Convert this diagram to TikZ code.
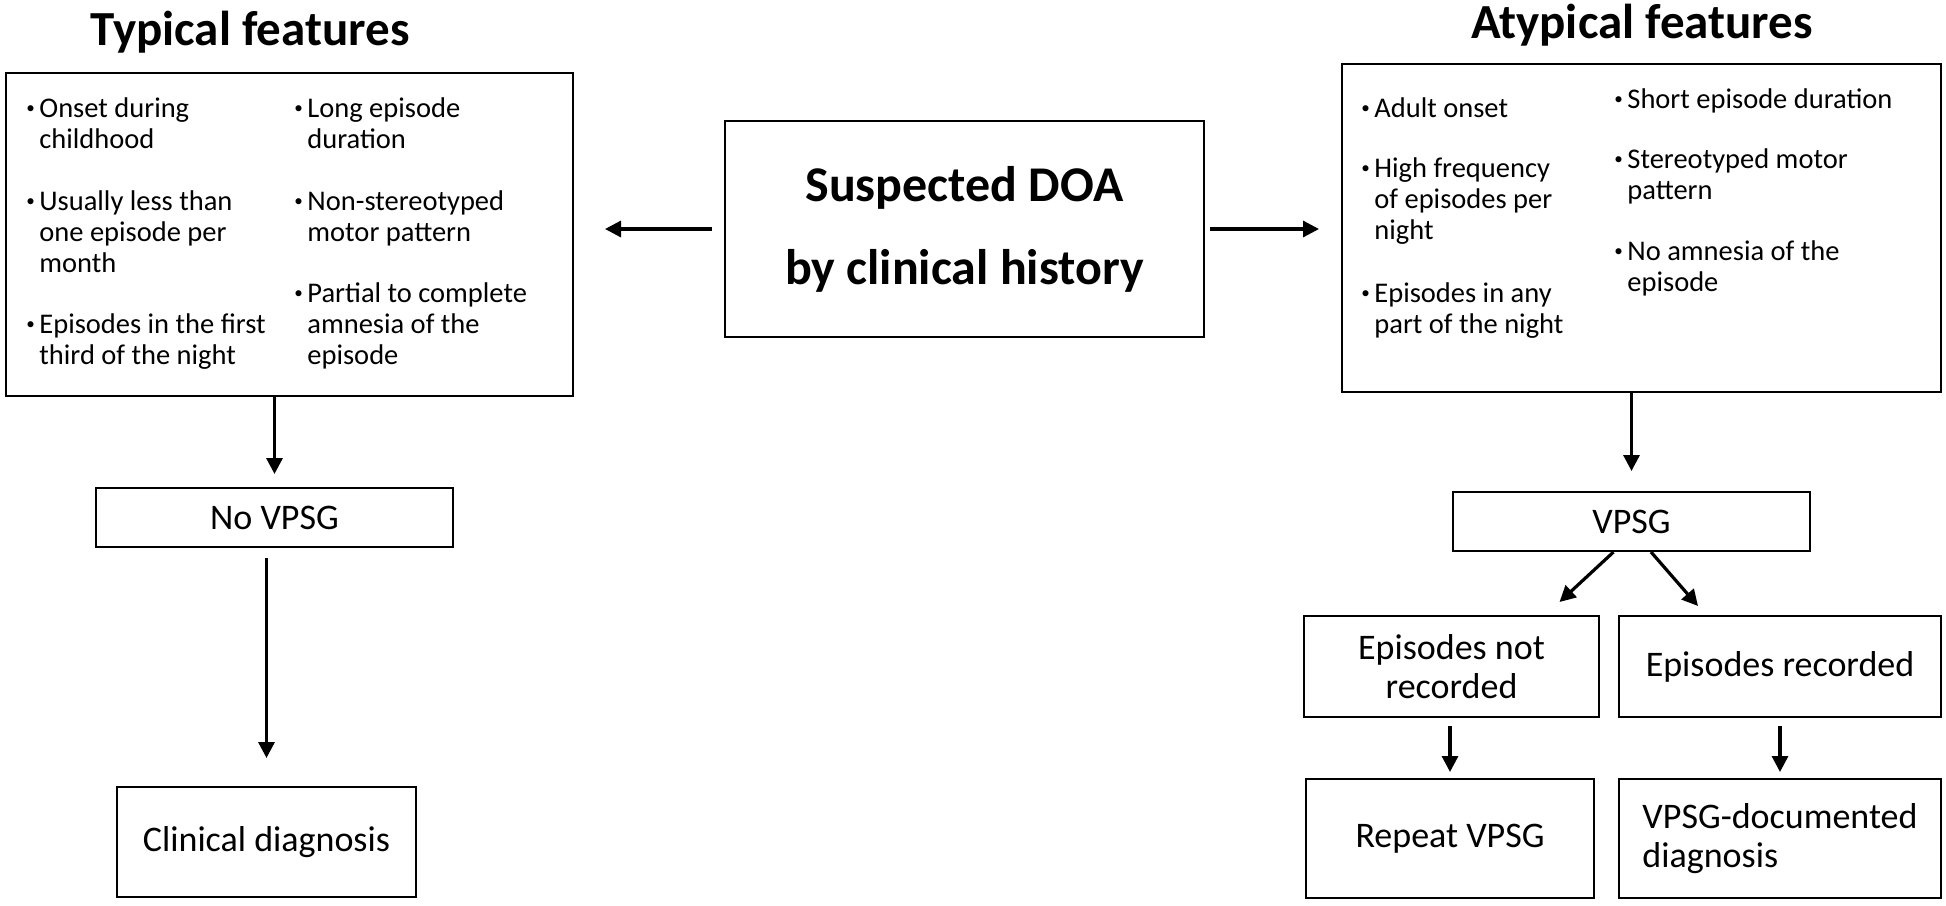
\documentclass[tikz,border=0pt]{standalone}
\usepackage{fontspec}
\usepackage{graphicx}
\setmainfont{Carlito}
\usetikzlibrary{arrows.meta}

\newcommand{\feat}[1]{\makebox[7pt][l]{\hspace{0.5pt}\raisebox{0.12em}{\scalebox{0.6}{\textbullet}}}\begin{tabular}[t]{@{}l@{}}#1\end{tabular}}

\begin{document}
\begin{tikzpicture}[x=0.5pt,y=-0.5pt]
\tikzstyle{box}=[draw,line width=1pt,inner sep=0pt]
\tikzstyle{flow}=[box,font=\fontsize{18}{19.5}\selectfont,align=center]
\tikzstyle{item}=[anchor=base west,inner sep=0pt,font=\fontsize{14.25}{15.5}\selectfont]
\tikzstyle{heading}=[anchor=base,inner sep=0pt,font=\fontsize{24.5}{29}\selectfont\bfseries]
\tikzstyle{arr}=[-{Triangle[length=8pt,width=8pt]},line width=1.6pt]

\useasboundingbox (0,0) rectangle (1946,905);

  \node[heading] (typt) at (250,45) {Typical features};
  \node[heading] (atypt) at (1642,38) {Atypical features};

  \node[box,minimum width=283.5pt,minimum height=161.5pt] (typ) at (289.5,234.5) {};
  \node[box,minimum width=239.5pt,minimum height=108pt,align=center,
        font=\fontsize{25}{41.5}\selectfont\bfseries] (doa) at (964.5,229)
        {Suspected DOA\\by clinical history};
  \node[box,minimum width=299.5pt,minimum height=164pt] (atyp) at (1641.5,228) {};

  % typical features
  \node[item] (t1) at (25,117) {\feat{Onset during\\childhood}};
  \node[item] (t2) at (25,210) {\feat{Usually less than\\one episode per\\month}};
  \node[item] (t3) at (25,333) {\feat{Episodes in the first\\third of the night}};
  \node[item] (t4) at (293,117) {\feat{Long episode\\duration}};
  \node[item] (t5) at (293,210) {\feat{Non-stereotyped\\motor pattern}};
  \node[item] (t6) at (293,302) {\feat{Partial to complete\\amnesia of the\\episode}};

  % atypical features
  \node[item] (a1) at (1360,117) {\feat{Adult onset}};
  \node[item] (a2) at (1360,177) {\feat{High frequency\\of episodes per\\night}};
  \node[item] (a3) at (1360,302) {\feat{Episodes in any\\part of the night}};
  \node[item] (a4) at (1613,108) {\feat{Short episode duration}};
  \node[item] (a5) at (1613,168) {\feat{Stereotyped motor\\pattern}};
  \node[item] (a6) at (1613,260) {\feat{No amnesia of the\\episode}};

  \node[flow,minimum width=178.5pt,minimum height=29.5pt] (novpsg) at (274.5,517.5) {No VPSG};
  \node[flow,minimum width=149.5pt,minimum height=55pt] (clin) at (266.5,842) {Clinical diagnosis};
  \node[flow,minimum width=178.5pt,minimum height=29.5pt] (vpsg) at (1631.5,521.5) {VPSG};
  \node[flow,minimum width=147.5pt,minimum height=50.5pt] (notrec) at (1451.5,666.5) {Episodes not\\recorded};
  \node[flow,minimum width=161pt,minimum height=50.5pt] (rec) at (1780,666.5) {Episodes recorded};
  \node[flow,minimum width=144pt,minimum height=59.5pt] (rep) at (1450,838.5) {Repeat VPSG};
  \node[flow,minimum width=161pt,minimum height=59.5pt,align=left] (vdoc) at (1780,838.5) {VPSG-documented\\diagnosis};

  \draw[arr,shorten <=6pt,shorten >=15.5pt] (doa.west) -- (doa.west -| typ.east);
  \draw[arr,shorten <=2.5pt,shorten >=11pt] (doa.east) -- (doa.east -| atyp.west);
  \draw[arr,shorten >=6.5pt] (novpsg.north |- typ.south) -- (novpsg.north);
  \draw[arr,shorten <=5pt,shorten >=14pt] (clin.north |- novpsg.south) -- (clin.north);
  \draw[arr,shorten >=10pt] (vpsg.north |- atyp.south) -- (vpsg.north);
  \draw[arr] ([xshift=-9pt]vpsg.south) -- ([xshift=54pt,yshift=6.5pt]notrec.north);
  \draw[arr] ([xshift=9.75pt]vpsg.south) -- ([xshift=-41pt,yshift=4.5pt]rec.north);
\foreach \from/\to in {notrec/rep, rec/vdoc}
\draw[arr,shorten <=4pt,shorten >=3pt] (\to.north |- \from.south) -- (\to.north);

\end{tikzpicture}
\end{document}
